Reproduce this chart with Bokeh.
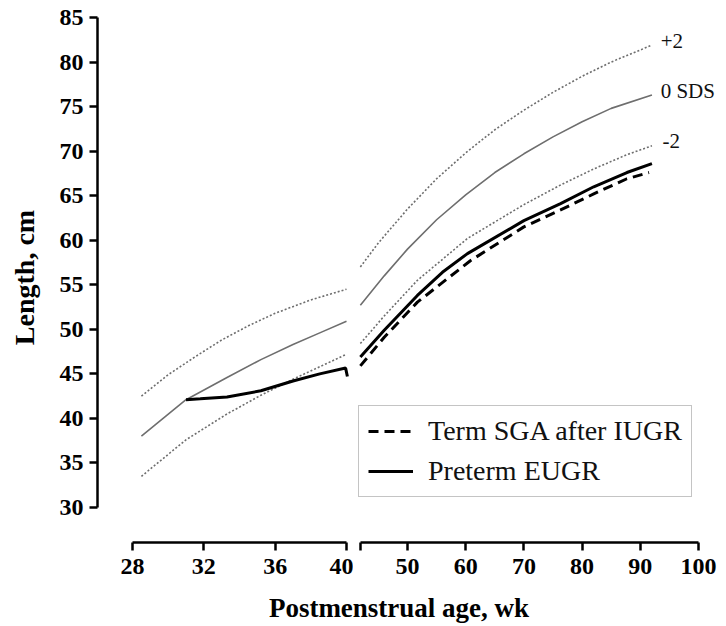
from bokeh.plotting import figure
from bokeh.layouts import column, row
from bokeh.models import Range1d, LinearAxis, FixedTicker, Legend, LegendItem, Title
from bokeh.core.properties import value
from bokeh.embed import file_html
from bokeh.resources import INLINE

# ---------------- data ----------------
Y_TICKS = [30, 35, 40, 45, 50, 55, 60, 65, 70, 75, 80, 85]
LEFT_TICKS = [28, 32, 36, 40]
RIGHT_TICKS = [50, 60, 70, 80, 90, 100]
SDS_LABELS = ["+2", "0 SDS", "-2"]
LEGEND_LABELS = ["Term SGA after IUGR", "Preterm EUGR"]
X_TITLE = "Postmenstrual age, wk"
Y_TITLE = "Length, cm"

# reference curves, preterm part (28-40 wk)
plus2_left_wk = [28.5, 30, 31.5, 33, 34.5, 36, 38, 40]
plus2_left = [42.5, 44.9, 46.9, 48.8, 50.4, 51.8, 53.3, 54.5]
zero_left_wk = [28.5, 31, 33.3, 35.2, 37, 38.5, 40]
zero_left = [38.0, 42.1, 44.6, 46.6, 48.3, 49.6, 50.9]
minus2_left_wk = [28.5, 31, 33.3, 35.2, 37, 38.5, 40]
minus2_left = [33.5, 37.6, 40.5, 42.6, 44.4, 45.8, 47.2]

# reference curves, post-term part (42-92 wk)
plus2_right_wk = [41.9, 45, 50, 55, 60, 65, 70, 75, 80, 85, 92]
plus2_right = [57.0, 59.7, 63.5, 66.9, 69.8, 72.4, 74.6, 76.6, 78.4, 80.0, 81.9]
zero_right_wk = [41.9, 46, 50, 55, 60, 65, 70, 75, 80, 85, 92]
zero_right = [52.7, 56.0, 59.0, 62.3, 65.1, 67.6, 69.7, 71.6, 73.3, 74.8, 76.3]
minus2_right_wk = [41.9, 46, 51.7, 60.3, 70, 76.3, 82, 87.7, 92]
minus2_right = [48.4, 51.5, 55.5, 60.2, 64.0, 66.2, 68.0, 69.6, 70.6]

# Preterm EUGR
preterm_left_wk = [31.0, 31.8, 33.3, 35.2, 37.0, 38.5, 39.95, 40.05]
preterm_left = [42.1, 42.2, 42.4, 43.1, 44.2, 45.0, 45.65, 44.7]
preterm_right_wk = [41.9, 46, 51.7, 56, 60.3, 70, 76.3, 82, 87.7, 92]
preterm_right = [46.9, 49.9, 53.8, 56.4, 58.5, 62.2, 64.1, 66.0, 67.6, 68.6]

# Term SGA after IUGR
sga_right_wk = [41.9, 46, 51.7, 60.8, 70, 76.3, 82, 87.7, 91.5]
sga_right = [45.9, 49.1, 53.05, 57.7, 61.5, 63.4, 65.2, 66.9, 67.6]

# ---------------- layout geometry (page px) ----------------
Y_AXIS_X = 97        # y axis line
SPLIT_X = 353        # boundary between the two panels
FRAME_R = 718        # right edge of the right frame
FRAME_TOP, FRAME_BOT = 12, 542
X28, X40 = 132, 346  # left segment tick positions
X50, X100 = 407, 698 # right segment tick positions

px_wk_left = (X40 - X28) / 12.0
left_start = 28 - (X28 - Y_AXIS_X) / px_wk_left
left_end = left_start + (SPLIT_X - Y_AXIS_X) / px_wk_left
px_wk_right = (X100 - X50) / 50.0
right_start = 50 - (X50 - SPLIT_X) / px_wk_right
right_end = 100 + (FRAME_R - X100) / px_wk_right

px_cm = (507 - 17) / 55.0
y_start = 30 - (FRAME_BOT - 507) / px_cm
y_end = 85 + (17 - FRAME_TOP) / px_cm

SERIF = "Liberation Serif"
BOTTOM = 46
FIG_H = FRAME_BOT + BOTTOM


def style_axis(ax):
    ax.axis_line_width = 2.5
    ax.axis_line_color = "black"
    ax.major_tick_line_width = 2.5
    ax.major_tick_line_color = "black"
    ax.major_tick_out = 8
    ax.major_tick_in = 0
    ax.minor_tick_in = 0
    ax.minor_tick_out = 0
    ax.major_label_text_font = SERIF
    ax.major_label_text_font_style = "bold"
    ax.major_label_text_font_size = "24px"
    ax.major_label_text_color = "black"
    ax.axis_label_text_font = SERIF
    ax.axis_label_text_font_style = "bold"
    ax.axis_label_text_color = "black"


def base_fig(width, x_range, left, right, y_loc):
    f = figure(width=width, height=FIG_H, output_backend="svg", toolbar_location=None,
               x_range=x_range, y_range=Range1d(y_start, y_end),
               x_axis_location=None, y_axis_location=y_loc,
               min_border_left=left, min_border_right=right,
               min_border_top=FRAME_TOP, min_border_bottom=BOTTOM)
    f.grid.grid_line_color = None
    f.outline_line_color = None
    f.background_fill_color = "white"
    f.border_fill_color = "white"
    return f


REF_COLOR = "#6e6e6e"
DOT = dict(line_color=REF_COLOR, line_width=1.6, line_dash="2 2")
SOLID = dict(line_color=REF_COLOR, line_width=1.6)

# ---- left panel: 28-40 wk ----
pl = base_fig(SPLIT_X, Range1d(left_start, left_end), Y_AXIS_X, 0, "left")
ya = pl.yaxis[0]
style_axis(ya)
ya.bounds = (30, 85)
ya.ticker = FixedTicker(ticks=Y_TICKS)
ya.major_label_standoff = 6
ya.axis_label = Y_TITLE
ya.axis_label_text_font_size = "28px"
ya.axis_label_standoff = 17

xl = LinearAxis(bounds=(28, 40), ticker=FixedTicker(ticks=LEFT_TICKS))
style_axis(xl)
xl.major_label_standoff = 8
pl.add_layout(xl, "below")

pl.line(plus2_left_wk, plus2_left, **DOT)
pl.line(zero_left_wk, zero_left, **SOLID)
pl.line(minus2_left_wk, minus2_left, **DOT)
pl.line(preterm_left_wk, preterm_left, line_color="black", line_width=3)

# ---- right panel: 42-100 wk ----
pr_w = FRAME_R - SPLIT_X + 4
pr = base_fig(pr_w, Range1d(right_start, right_end), 0, 4, None)
xr = LinearAxis(bounds=(41.9, 100), ticker=FixedTicker(ticks=RIGHT_TICKS, minor_ticks=[41.9]))
style_axis(xr)
xr.minor_tick_out = 8
xr.minor_tick_line_width = 2.5
xr.minor_tick_line_color = "black"
xr.major_label_standoff = 8
pr.add_layout(xr, "below")

pr.line(plus2_right_wk, plus2_right, **DOT)
pr.line(zero_right_wk, zero_right, **SOLID)
pr.line(minus2_right_wk, minus2_right, **DOT)
r_pre = pr.line(preterm_right_wk, preterm_right, line_color="black", line_width=3)
r_sga = pr.line(sga_right_wk, sga_right, line_color="black", line_width=3, line_dash="10 6")

lab_x = [plus2_right_wk[-1] + 1.5, zero_right_wk[-1] + 1.5, minus2_right_wk[-1] + 1.8]
lab_y = [plus2_right[-1] + 0.5, zero_right[-1] + 0.5, minus2_right[-1] + 0.5]
pr.text(x=lab_x, y=lab_y, text=SDS_LABELS,
        text_font=value(SERIF), text_font_size="21px", text_color="#111111",
        text_baseline="middle", text_align="left")

legend = Legend(items=[LegendItem(label=LEGEND_LABELS[0], renderers=[r_sga]),
                       LegendItem(label=LEGEND_LABELS[1], renderers=[r_pre])],
                location=(358 - SPLIT_X, FRAME_BOT - 497))
legend.label_text_font = SERIF
legend.label_text_font_size = "28px"
legend.label_text_color = "#111111"
legend.border_line_color = "#8a8a8a"
legend.border_line_width = 1.5
legend.background_fill_color = "white"
legend.background_fill_alpha = 1
legend.padding = 9
legend.spacing = 8
legend.margin = 0
legend.glyph_width = 45
legend.glyph_height = 30
legend.label_standoff = 15
pr.add_layout(legend)

# ---- shared x-axis title ----
TITLE_H = 36
pt = figure(width=722, height=TITLE_H, output_backend="svg", toolbar_location=None,
            x_range=Range1d(0, 1), y_range=Range1d(0, 1),
            x_axis_location=None, y_axis_location=None,
            min_border_left=Y_AXIS_X, min_border_right=22,
            min_border_top=TITLE_H - 2, min_border_bottom=0)
pt.grid.grid_line_color = None
pt.outline_line_color = None
pt.border_fill_color = "white"
pt.background_fill_color = "white"
pt.add_layout(Title(text=X_TITLE, align="center", text_font=SERIF,
                    text_font_size="27px", text_font_style="bold",
                    text_color="black", standoff=0), "above")

layout = column(row(pl, pr), pt)
open("out.html", "w").write(file_html(layout, INLINE))
